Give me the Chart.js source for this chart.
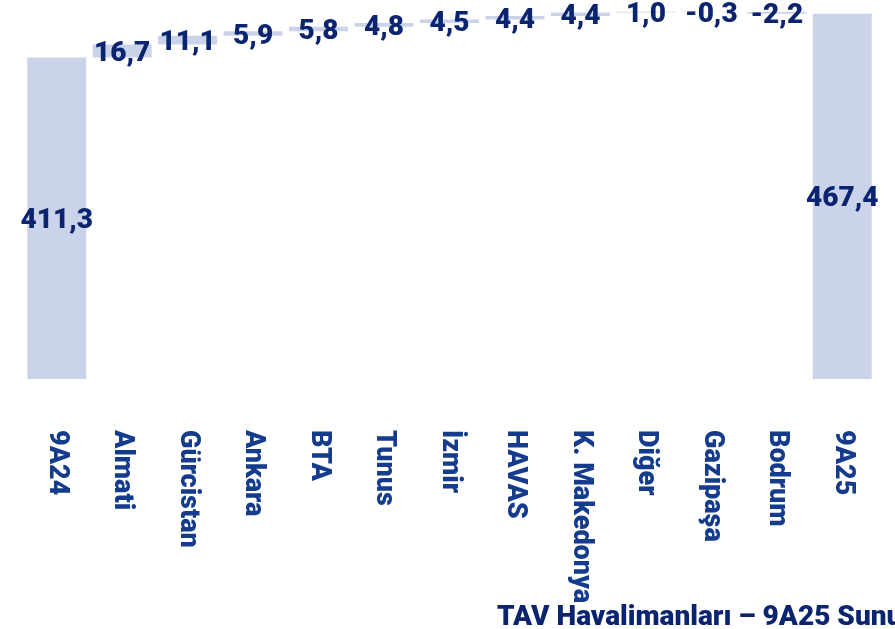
<!DOCTYPE html>
<html>
<head>
<meta charset="utf-8">
<script src="https://cdn.jsdelivr.net/npm/chart.js@4"></script>
<style>
  html, body { margin: 0; padding: 0; background: #fff; }
  #wrap { width: 895px; height: 629px; position: relative; }
</style>
</head>
<body>
<div id="wrap"><canvas id="chart"></canvas></div>
<script>
const categories = ['9A24', 'Almati', 'Gürcistan', 'Ankara', 'BTA', 'Tunus', 'İzmir', 'HAVAS', 'K. Makedonya', 'Diğer', 'Gazipaşa', 'Bodrum', '9A25']
const startTotal = 411.3
const changes = [16.7, 11.1, 5.9, 5.8, 4.8, 4.5, 4.4, 4.4, 1.0, -0.3, -2.2]
const endTotal = 467.4
const footerText = 'TAV Havalimanları – 9A25 Sunumu'

// waterfall: totals from 0, changes float on the running sum
const bars = [[0, startTotal]]
const shown = [startTotal]
let run = startTotal
changes.forEach(c => {
  bars.push([run, run + c])
  shown.push(c)
  run += c
})
bars.push([0, endTotal])
shown.push(endTotal)

const fmt = v => v.toFixed(1).replace('.', ',')

const labelsPlugin = {
  id: 'labels',
  afterDatasetsDraw(chart) {
    const ctx = chart.ctx
    const meta = chart.getDatasetMeta(0)
    const x = chart.scales.x
    ctx.save()
    ctx.fillStyle = '#0b2470'
    ctx.font = '900 28px Roboto'
    ctx.textAlign = 'center'
    ctx.textBaseline = 'middle'
    meta.data.forEach((bar, i) => {
      const mid = (bar.y + bar.base) / 2 + 3
      ctx.fillText(fmt(shown[i]), bar.x, mid)
    })
    // category names, rotated to read top to bottom
    ctx.fillStyle = '#153b8c'
    ctx.font = '900 27px Roboto'
    ctx.textAlign = 'left'
    categories.forEach((c, i) => {
      ctx.save()
      ctx.translate(x.getPixelForValue(i), 430)
      ctx.rotate(Math.PI / 2)
      ctx.fillText(c, 0, 0)
      ctx.restore()
    })
    ctx.fillStyle = '#0b2470'
    ctx.font = '900 28px Roboto'
    ctx.textBaseline = 'alphabetic'
    ctx.fillText(footerText, 497, 625)
    ctx.restore()
  }
}

new Chart(document.getElementById('chart'), {
  type: 'bar',
  data: {
    labels: categories,
    datasets: [{
      data: bars,
      backgroundColor: '#cbd3ea',
      borderWidth: 0,
      barPercentage: 0.9,
      categoryPercentage: 1,
    }]
  },
  options: {
    responsive: true,
    maintainAspectRatio: false,
    animation: false,
    layout: { padding: { left: 24, right: 20, top: 0, bottom: 250 } },
    plugins: { legend: { display: false }, tooltip: { enabled: false } },
    scales: {
      x: { display: false },
      y: { display: false, min: 0, max: 485 }
    }
  },
  plugins: [labelsPlugin]
})
</script>
</body>
</html>
